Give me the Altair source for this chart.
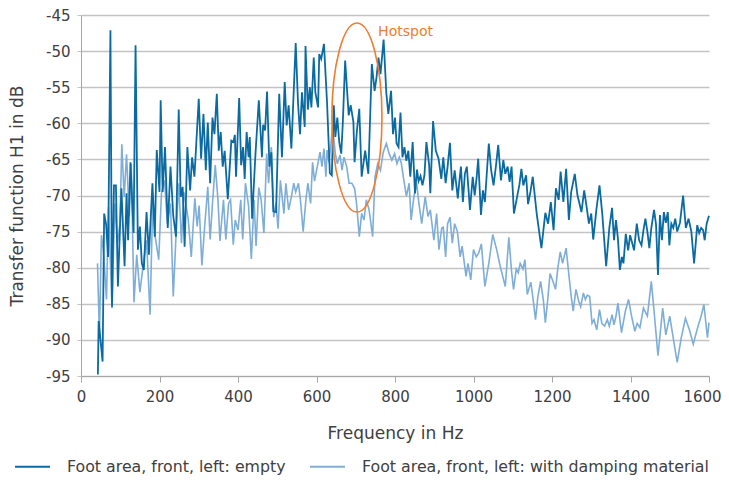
import altair as alt
import pandas as pd

S1 = "Foot area, front, left: empty"
S2 = "Foot area, front, left: with damping material"

dark_hz = [43, 45, 55, 59, 64, 69, 75, 79, 84, 89, 94, 103, 111, 116, 120, 126, 134, 139, 145, 150,
           155, 160, 167, 173, 182, 188, 193, 200, 203, 208, 214, 221, 228, 235, 242, 249, 254, 259, 264, 271,
           278, 283, 289, 300, 306, 312, 318, 323, 329, 335, 340, 346, 351, 356, 361, 366, 374, 383, 388, 392,
           395, 403, 408, 413, 417, 422, 427, 430, 436, 444, 453, 461, 464, 469, 474, 480, 485, 490, 497, 505,
           512, 519, 524, 529, 536, 547, 553, 558, 563, 570, 572, 578, 583, 587, 593, 597, 604, 607, 612, 619,
           627, 634, 639, 644, 648, 653, 658, 663, 667, 673, 682, 687, 694, 697, 703, 709, 715, 724, 732, 741,
           748, 753, 758, 763, 771, 778, 783, 790, 795, 800, 804, 809, 814, 819, 824, 829, 834, 839, 845, 851,
           856, 860, 865, 870, 875, 880, 887, 890, 897, 904, 911, 918, 923, 929, 934, 940, 946, 952, 960, 964,
           968, 973, 978, 983, 991, 998, 1003, 1008, 1012, 1019, 1024, 1029, 1039, 1045, 1051, 1057, 1063, 1070, 1076, 1081,
           1087, 1092, 1097, 1103, 1110, 1117, 1122, 1127, 1134, 1139, 1145, 1151, 1161, 1173, 1183, 1190, 1197, 1204, 1210, 1217,
           1222, 1229, 1236, 1243, 1249, 1258, 1265, 1270, 1275, 1282, 1288, 1294, 1300, 1305, 1313, 1321, 1328, 1338, 1346, 1353,
           1358, 1363, 1368, 1373, 1378, 1382, 1388, 1394, 1399, 1404, 1409, 1416, 1422, 1428, 1433, 1438, 1443, 1448, 1453, 1460,
           1465, 1470, 1475, 1480, 1485, 1490, 1495, 1499, 1504, 1509, 1514, 1519, 1526, 1534, 1541, 1548, 1555, 1562, 1570, 1575,
           1580, 1585, 1589, 1594, 1600]
dark_db = [-94.8, -87.4, -93.0, -72.5, -74.0, -78.5, -47.1, -85.4, -68.6, -68.6, -82.6, -69.0, -79.8, -69.7, -76.2, -65.4, -75.2, -49.2, -77.5, -74.3,
           -79.4, -80.3, -72.3, -78.2, -68.3, -75.7, -63.7, -69.5, -56.8, -69.5, -63.3, -74.5, -66.0, -72.8, -75.7, -58.1, -70.2, -68.8, -77.1, -63.3,
           -69.3, -64.7, -67.4, -56.6, -64.9, -58.7, -66.5, -59.9, -68.3, -59.2, -61.5, -55.9, -63.8, -61.2, -66.0, -63.8, -70.5, -62.4, -62.6, -61.6,
           -67.4, -56.5, -65.8, -63.3, -67.7, -61.2, -64.7, -61.9, -73.2, -64.7, -56.8, -64.7, -60.2, -61.0, -55.6, -66.0, -64.0, -72.2, -72.3, -55.9,
           -64.7, -54.3, -60.3, -57.5, -63.5, -48.9, -57.3, -61.5, -55.7, -60.5, -49.3, -58.1, -55.0, -57.8, -50.9, -55.7, -57.8, -50.4, -51.1, -49.0,
           -57.3, -66.9, -67.2, -57.5, -61.9, -59.2, -62.6, -64.2, -60.0, -51.3, -58.9, -57.5, -59.8, -65.4, -61.0, -58.0, -67.4, -63.8, -67.0, -51.8,
           -55.5, -53.6, -50.9, -53.2, -48.4, -55.9, -58.7, -55.5, -61.5, -59.2, -62.8, -63.3, -58.5, -64.7, -63.3, -65.2, -63.8, -67.4, -62.6, -69.7,
           -66.4, -68.0, -67.3, -68.6, -67.2, -62.6, -65.8, -69.7, -59.7, -63.8, -64.9, -67.7, -64.7, -68.3, -66.0, -62.7, -69.3, -66.5, -70.4, -68.0,
           -66.0, -70.9, -67.0, -66.0, -72.0, -67.4, -70.0, -67.5, -64.9, -72.7, -69.3, -70.9, -62.8, -66.5, -68.6, -66.0, -63.0, -67.9, -65.1, -67.0,
           -66.0, -68.1, -66.0, -72.5, -70.5, -68.5, -66.3, -68.6, -67.2, -71.2, -69.5, -67.4, -72.5, -77.3, -72.4, -73.9, -70.9, -74.8, -69.0, -70.6,
           -66.7, -70.9, -66.3, -73.4, -69.5, -67.0, -70.0, -71.1, -72.3, -69.3, -71.5, -73.9, -72.5, -76.1, -72.0, -68.6, -72.5, -79.8, -74.5, -71.7,
           -76.2, -73.4, -76.0, -80.3, -78.5, -79.4, -75.3, -77.6, -75.5, -76.5, -77.6, -73.9, -76.2, -76.9, -74.8, -73.2, -75.0, -77.3, -74.5, -72.0,
           -74.0, -81.0, -72.7, -76.2, -72.3, -73.8, -72.3, -76.9, -73.9, -74.5, -73.2, -75.0, -73.8, -70.0, -74.5, -73.2, -75.0, -79.4, -74.1, -75.2,
           -74.5, -74.8, -76.2, -73.9, -72.8]

light_hz = [42, 47, 52, 57, 65, 70, 79, 86, 93, 99, 104, 110, 116, 123, 128, 135, 142, 150, 159, 167,
            176, 183, 189, 198, 205, 213, 220, 228, 235, 242, 249, 256, 262, 273, 281, 290, 296, 301, 308, 315,
            323, 329, 335, 342, 349, 354, 363, 369, 376, 381, 388, 393, 400, 407, 412, 419, 427, 434, 441, 446,
            453, 459, 466, 473, 478, 485, 491, 497, 502, 508, 517, 522, 529, 536, 542, 547, 554, 559, 566, 573,
            578, 585, 590, 595, 602, 609, 614, 619, 624, 627, 632, 641, 648, 653, 660, 665, 670, 677, 683, 690,
            697, 702, 709, 715, 721, 727, 734, 743, 749, 756, 763, 770, 778, 785, 792, 799, 805, 811, 816, 822,
            829, 836, 841, 848, 855, 861, 868, 877, 884, 890, 899, 906, 912, 919, 923, 929, 934, 940, 946, 952,
            959, 966, 971, 981, 986, 993, 1000, 1007, 1013, 1020, 1029, 1039, 1049, 1059, 1068, 1081, 1090, 1097, 1102, 1109,
            1114, 1119, 1126, 1131, 1137, 1146, 1151, 1158, 1164, 1171, 1178, 1183, 1189, 1195, 1202, 1209, 1215, 1221, 1227, 1236,
            1243, 1249, 1254, 1261, 1268, 1273, 1280, 1285, 1290, 1296, 1302, 1307, 1314, 1321, 1327, 1334, 1341, 1346, 1353, 1358,
            1363, 1368, 1377, 1387, 1395, 1402, 1411, 1417, 1424, 1433, 1443, 1453, 1460, 1470, 1482, 1490, 1500, 1509, 1519, 1529,
            1540, 1550, 1560, 1570, 1580, 1587, 1596, 1600]
light_db = [-79.4, -89.5, -75.5, -77.6, -84.4, -71.6, -85.6, -71.1, -76.6, -74.0, -62.9, -70.2, -64.3, -72.9, -65.6, -84.8, -78.2, -83.4, -79.4, -76.2,
            -86.5, -70.2, -75.7, -78.9, -69.7, -67.9, -73.9, -71.1, -84.0, -75.7, -68.3, -76.6, -69.5, -73.2, -78.5, -70.4, -74.3, -71.4, -79.7, -74.3,
            -68.8, -76.1, -71.1, -65.8, -70.6, -76.3, -70.6, -76.1, -71.1, -70.6, -76.8, -73.4, -74.8, -70.6, -76.1, -68.3, -71.5, -78.8, -70.6, -77.0,
            -68.9, -70.6, -75.2, -64.2, -68.3, -63.3, -73.0, -71.0, -74.6, -67.9, -72.5, -68.3, -72.0, -70.2, -68.3, -69.5, -68.3, -70.6, -75.0, -70.6,
            -68.3, -71.1, -65.4, -68.0, -66.0, -64.0, -66.0, -63.5, -67.4, -63.7, -65.4, -60.5, -64.2, -65.6, -64.4, -66.5, -64.7, -66.0, -68.3, -68.3,
            -69.0, -71.1, -75.7, -72.5, -73.4, -70.6, -72.0, -75.7, -67.4, -65.6, -66.5, -64.0, -62.8, -64.2, -65.1, -64.2, -65.6, -64.7, -65.5, -67.7,
            -70.1, -68.3, -73.4, -70.2, -68.3, -71.1, -73.9, -70.2, -72.9, -72.0, -76.2, -72.5, -77.5, -74.5, -74.4, -78.5, -73.9, -73.0, -76.6, -73.9,
            -75.0, -78.5, -77.0, -81.2, -79.4, -81.7, -77.5, -78.5, -78.0, -76.7, -82.6, -79.4, -75.4, -77.5, -79.8, -82.6, -75.8, -80.5, -83.0, -80.2,
            -80.7, -79.4, -80.2, -78.9, -83.7, -82.0, -84.0, -87.2, -84.0, -81.9, -84.5, -87.6, -84.5, -80.8, -81.8, -83.0, -80.0, -77.8, -79.4, -77.3,
            -81.0, -84.0, -86.0, -83.0, -84.6, -85.4, -83.5, -84.4, -83.8, -84.0, -87.7, -87.2, -88.6, -85.8, -87.7, -88.1, -87.2, -88.1, -86.5, -87.9,
            -86.7, -84.9, -89.0, -86.0, -84.4, -86.5, -88.8, -87.7, -88.3, -85.6, -86.7, -81.9, -86.0, -92.2, -85.6, -89.3, -86.7, -89.8, -93.1, -89.8,
            -87.0, -88.6, -90.6, -88.5, -86.7, -85.1, -89.7, -87.6]

x_ticks = [0, 200, 400, 600, 800, 1000, 1200, 1400, 1600]
y_ticks = [-95, -90, -85, -80, -75, -70, -65, -60, -55, -50, -45]

note_hz = [703]
note_db = [-59.2]
note_label = ["Hotspot"]
label_hz = [757]
label_db = [-47.4]

DARK = "#0b6aa2"
LIGHT = "#7eaed8"
ORANGE = "#ee7d31"
FONT = "DejaVu Sans"
TXT = "#404040"

df = pd.concat([
    pd.DataFrame({"hz": dark_hz, "db": dark_db, "series": S1}),
    pd.DataFrame({"hz": light_hz, "db": light_db, "series": S2}),
])

color = alt.Color(
    "series:N",
    scale=alt.Scale(domain=[S1, S2], range=[DARK, LIGHT]),
    legend=alt.Legend(
        title=None, orient="none", legendX=-67, legendY=433, direction="horizontal",
        symbolType="stroke", symbolSize=1225, symbolStrokeWidth=2, labelOffset=16,
        columnPadding=20, labelFontSize=15.8, labelFont=FONT, labelColor=TXT,
        labelLimit=600,
    ),
)

x = alt.X("hz:Q", scale=alt.Scale(domain=[0, 1600], nice=False),
          axis=alt.Axis(values=x_ticks, title="Frequency in Hz", grid=False, tickSize=6,
                        tickColor="#a6a6a6", domainColor="#a6a6a6", labelPadding=7,
                        titlePadding=21, labelExpr="toString(datum.value)", labelOverlap=False,
                        labelFlush=False,
                        labelOffset={"condition": {"test": "datum.value == 1600", "value": -7}, "value": 0}))
y = alt.Y("db:Q", scale=alt.Scale(domain=[-95, -45], nice=False),
          axis=alt.Axis(values=y_ticks, title="Transfer function H1 in dB", grid=True,
                        gridColor="#c3c3c3", gridWidth=1.3, tickSize=4, tickColor="#c3c3c3",
                        domainColor="#a6a6a6", labelPadding=7, titlePadding=19,
                        labelExpr="toString(datum.value)", labelOverlap=False, labelFlush=False))

base = alt.Chart(df)
light_layer = base.transform_filter(alt.datum.series == S2).mark_line(strokeWidth=1.6).encode(
    x=x, y=y, color=color, order=alt.Order("hz:Q"))
dark_layer = base.transform_filter(alt.datum.series == S1).mark_line(strokeWidth=1.8).encode(
    x=x, y=y, color=color, order=alt.Order("hz:Q"))

ell_df = pd.DataFrame({"hz": note_hz, "db": note_db})
ellipse = alt.Chart(ell_df).mark_point(
    shape="M 0 -1 A 0.265 1 0 1 1 0 1 A 0.265 1 0 1 1 0 -1 Z",
    size=35721, filled=False, stroke=ORANGE, strokeWidth=1.6, opacity=1,
).encode(x=x, y=y)

lab_df = pd.DataFrame({"hz": label_hz, "db": label_db, "t": note_label})
label = alt.Chart(lab_df).mark_text(
    align="left", baseline="middle", fontSize=14, font=FONT, color=ORANGE,
).encode(x=x, y=y, text="t:N")

chart = alt.layer(light_layer, dark_layer, ellipse, label).properties(
    width=628, height=361,
    autosize=alt.AutoSizeParams(type="none"),
    padding={"left": 73, "top": 7, "right": 12, "bottom": 102},
).configure_view(strokeWidth=0).configure_axis(
    labelFont=FONT, titleFont=FONT, labelFontSize=15, titleFontSize=17,
    labelColor=TXT, titleColor=TXT, titleFontWeight="normal",
)

chart.save("out.html", embed_options={"renderer": "svg", "actions": False})
